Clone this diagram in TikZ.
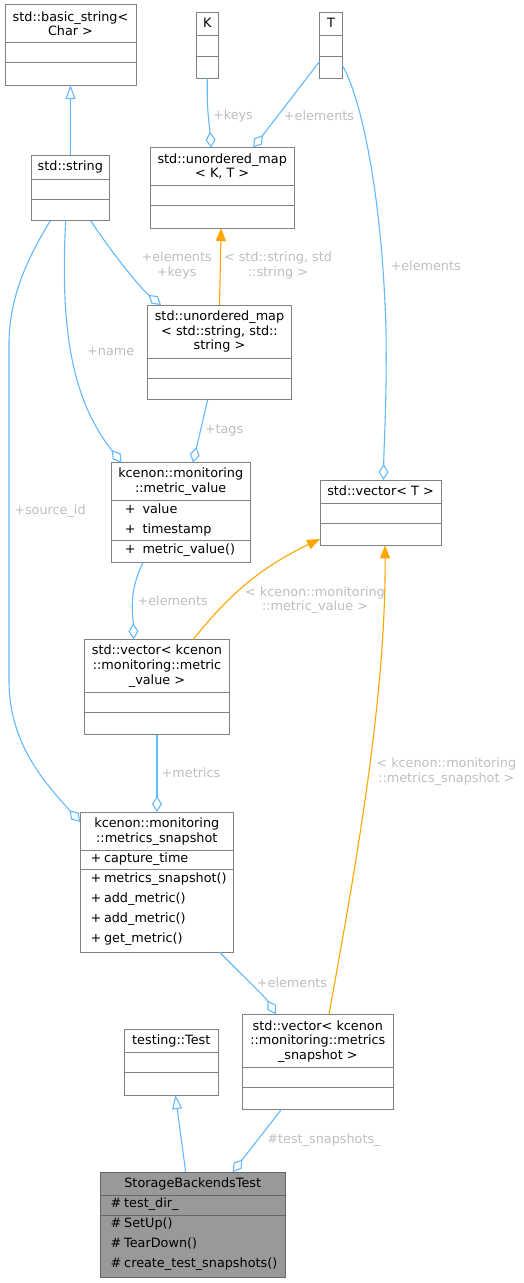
\documentclass[tikz,border=0pt]{standalone}
\usepackage{fontspec}
\setmainfont{DejaVu Sans}
\usetikzlibrary{arrows.meta}
\definecolor{edgeblue}{HTML}{63B8FF}
\definecolor{tmplorange}{HTML}{FFA500}
\definecolor{lblgray}{HTML}{BEBEBE}
\definecolor{boxgray}{HTML}{808080}
\definecolor{sbtfill}{HTML}{999999}
\definecolor{sbtdraw}{HTML}{666666}
\begin{document}
\begin{tikzpicture}[x=1pt, y=-1pt,
        font=\fontsize{12.8pt}{14.7pt}\selectfont,
        cls/.style={draw=boxgray, line width=1pt, fill=white, anchor=north west, inner sep=0pt, outer sep=0pt},
        divline/.style={draw=boxgray, line width=1pt},
        txt/.style={inner sep=0pt, align=center},
        one/.style={txt, text height=9.7pt, text depth=3pt},
        mbr/.style={one, anchor=west},
        lbl/.style={txt, text=lblgray},
        mem/.style={draw=edgeblue, line width=1.1pt, -{Diamond[open, length=16pt, width=10pt]}},
        inh/.style={draw=edgeblue, line width=1.1pt, -{Triangle[open, length=14pt, width=10pt]}},
        tmpl/.style={draw=tmplorange, line width=1.1pt, -{Triangle[length=13pt, width=10pt]}}]
        \useasboundingbox (0, 0) rectangle (524, 1283);

        % class boxes
        \node[cls, minimum width=131, minimum height=80.3] (bstr) at (5, 4.7) {};
        \draw[divline] (5, 42.7) -- (136, 42.7) (5, 62.7) -- (136, 62.7);
        \node[txt] (bstrT) at (70.5, 23.7) {std::basic\_string<\\Char >};

        \node[cls, minimum width=22.7, minimum height=65.3] (kbox) at (196, 12.7) {};
        \draw[divline] (196, 35.7) -- (218.7, 35.7) (196, 56.3) -- (218.7, 56.3);
        \node[one] (kT) at (207.3, 24.2) {K};

        \node[cls, minimum width=22.6, minimum height=65.3] (tbox) at (319.7, 12.7) {};
        \draw[divline] (319.7, 35.7) -- (342.3, 35.7) (319.7, 56.3) -- (342.3, 56.3);
        \node[one] (tT) at (331, 24.2) {T};

        \node[cls, minimum width=78.7, minimum height=65.7] (strng) at (31, 155) {};
        \draw[divline] (31, 179) -- (109.7, 179) (31, 199) -- (109.7, 199);
        \node[one] (strngT) at (70.3, 167) {std::string};

        \node[cls, minimum width=143.7, minimum height=80.3] (umapkt) at (150.3, 147.7) {};
        \draw[divline] (150.3, 185.3) -- (294, 185.3) (150.3, 205.3) -- (294, 205.3);
        \node[txt] (umapktT) at (222.2, 166.5) {std::unordered\_map\\< K, T >};

        \node[cls, minimum width=143.6, minimum height=94.7] (umapss) at (147.7, 305) {};
        \draw[divline] (147.7, 358) -- (291.3, 358) (147.7, 378) -- (291.3, 378);
        \node[txt] (umapssT) at (219.5, 331.5) {std::unordered\_map\\< std::string, std::\\string >};

        \node[cls, minimum width=139.3, minimum height=99.6] (mval) at (111, 462.7) {};
        \draw[divline] (111, 500.7) -- (250.3, 500.7) (111, 540) -- (250.3, 540);
        \node[txt] (mvalT) at (180.7, 481.7) {kcenon::monitoring\\::metric\_value};
        \node[mbr] (mvalA) at (124.6, 510) {+\hspace{7pt}value};
        \node[mbr] (mvalB) at (124.6, 530) {+\hspace{7pt}timestamp};
        \node[mbr] (mvalC) at (124.6, 550) {+\hspace{7pt}metric\_value()};

        \node[cls, minimum width=121, minimum height=65.3] (vect) at (320, 480) {};
        \draw[divline] (320, 503.3) -- (441, 503.3) (320, 523.3) -- (441, 523.3);
        \node[one] (vectT) at (380.5, 492.3) {std::vector< T >};

        \node[cls, minimum width=145.4, minimum height=95.4] (vecmv) at (84.3, 639.3) {};
        \draw[divline] (84.3, 692.3) -- (229.7, 692.3) (84.3, 712.3) -- (229.7, 712.3);
        \node[txt] (vecmvT) at (157, 666.3) {std::vector< kcenon\\::monitoring::metric\\\_value >};

        \node[cls, minimum width=153, minimum height=140] (snap) at (80.3, 812) {};
        \draw[divline] (80.3, 850) -- (233.3, 850) (80.3, 869.7) -- (233.3, 869.7);
        \node[txt] (snapT) at (156.8, 831.5) {kcenon::monitoring\\::metrics\_snapshot};
        \node[mbr] (snapA) at (90.3, 858.7) {+\hspace{2.8pt}capture\_time};
        \node[mbr] (snapB) at (90.3, 878.7) {+\hspace{2.8pt}metrics\_snapshot()};
        \node[mbr] (snapC) at (90.3, 898.7) {+\hspace{2.8pt}add\_metric()};
        \node[mbr] (snapD) at (90.3, 918.7) {+\hspace{2.8pt}add\_metric()};
        \node[mbr] (snapE) at (90.3, 938.7) {+\hspace{2.8pt}get\_metric()};

        \node[cls, minimum width=93.3, minimum height=65.7] (gtest) at (124.7, 1029.3) {};
        \draw[divline] (124.7, 1052.3) -- (218, 1052.3) (124.7, 1072.7) -- (218, 1072.7);
        \node[one] (gtestT) at (171.3, 1041.3) {testing::Test};

        \node[cls, minimum width=151, minimum height=95] (vecsnap) at (242.3, 1014.3) {};
        \draw[divline] (242.3, 1067.3) -- (393.3, 1067.3) (242.3, 1087) -- (393.3, 1087);
        \node[txt] (vecsnapT) at (317.8, 1041.5) {std::vector< kcenon\\::monitoring::metrics\\\_snapshot >};

        \node[cls, fill=sbtfill, draw=sbtdraw, minimum width=185.3, minimum height=105.3] (sbt) at (100, 1172) {};
        \draw[divline, draw=sbtdraw] (100, 1195) -- (285.3, 1195) (100, 1215.3) -- (285.3, 1215.3);
        \node[one] (sbtT) at (192.7, 1184) {StorageBackendsTest};
        \node[mbr] (sbtA) at (110.5, 1204) {\#\hspace{2.8pt}test\_dir\_};
        \node[mbr] (sbtB) at (110.5, 1224) {\#\hspace{2.8pt}SetUp()};
        \node[mbr] (sbtC) at (110.5, 1244) {\#\hspace{2.8pt}TearDown()};
        \node[mbr] (sbtD) at (110.5, 1264) {\#\hspace{2.8pt}create\_test\_snapshots()};

        % relations
        \draw[inh] (strng) -- (bstr);
        \draw[mem] (kbox.south) .. controls (206.5, 110) and (209.5, 125) .. ([xshift=-11pt]umapkt.north);
        \draw[mem] ([yshift=-16pt]tbox.west) -- ([xshift=31pt]umapkt.north);
        \draw[mem] ([yshift=-20pt]tbox.east) .. controls (360, 95) and (382, 190) .. (386, 330)
            .. controls (387, 400) and (384, 440) .. ([xshift=3pt]vect.north);
        \draw[mem] ([xshift=20.3pt]strng.south) .. controls (110, 250) and (140, 288) .. ([xshift=-58.5pt]umapss.north);
        \draw[tmpl] (umapss.north) -- ([xshift=-1pt]umapkt.south);
        \draw[mem] ([xshift=-4.7pt]strng.south) .. controls (60, 330) and (72, 400) .. ([xshift=-59pt]mval.north);
        \draw[mem] ([xshift=-11.8pt]umapss.south) -- ([xshift=12.3pt]mval.north);
        \draw[mem] ([xshift=-20pt]strng.south) .. controls (25, 262) and (9, 300) .. (9, 345) -- (9, 680)
            .. controls (9, 740) and (40, 778) .. ([yshift=-10pt]snap.north west);
        \draw[mem] ([xshift=-37.4pt]mval.south) .. controls (128, 592) and (133, 615) .. ([xshift=-23.3pt]vecmv.north);
        \draw[tmpl] ([xshift=36.3pt]vecmv.north) .. controls (225, 600) and (255, 570) .. ([yshift=6.3pt]vect.south west);
        \draw[tmpl] ([xshift=11.2pt]vecsnap.north) .. controls (355, 870) and (386, 700) .. ([xshift=4.5pt]vect.south);
        \draw[mem] (vecmv.south) -- (vecmv.south |- snap.north);
        \draw[mem] ([xshift=62.5pt]snap.south) .. controls (245, 978) and (266, 998) .. ([xshift=-42pt]vecsnap.north);
        \draw[inh] ([xshift=-7pt]sbt.north) -- ([xshift=4pt]gtest.south);
        \draw[mem] ([xshift=-36.3pt]vecsnap.south) -- ([xshift=40pt]sbt.north);

        % relation labels
        \node[lbl] (lkeys) at (233, 115.7) {+keys};
        \node[lbl] (lelemA) at (319, 115.7) {+elements};
        \node[lbl] (lelemB) at (425.7, 265.3) {+elements};
        \node[lbl] (lelemkeys) at (176.7, 265.3) {+elements\\+keys};
        \node[lbl] (lssT) at (278, 265.3) {< std::string, std\\::string >};
        \node[lbl] (lname) at (110.7, 351.7) {+name};
        \node[lbl] (ltags) at (224, 430.3) {+tags};
        \node[lbl] (lsrc) at (50, 511.3) {+source\_id};
        \node[lbl] (lelemC) at (172.7, 600.3) {+elements};
        \node[lbl] (lmvT) at (315, 600) {< kcenon::monitoring\\::metric\_value >};
        \node[lbl] (lsnapT) at (446.3, 771.7) {< kcenon::monitoring\\::metrics\_snapshot >};
        \node[lbl] (lmetrics) at (191, 772.3) {+metrics};
        \node[lbl] (lelemD) at (292, 982.3) {+elements};
        \node[lbl] (ltsnap) at (324, 1139.7) {\#test\_snapshots\_};
    \end{tikzpicture}
\end{document}
